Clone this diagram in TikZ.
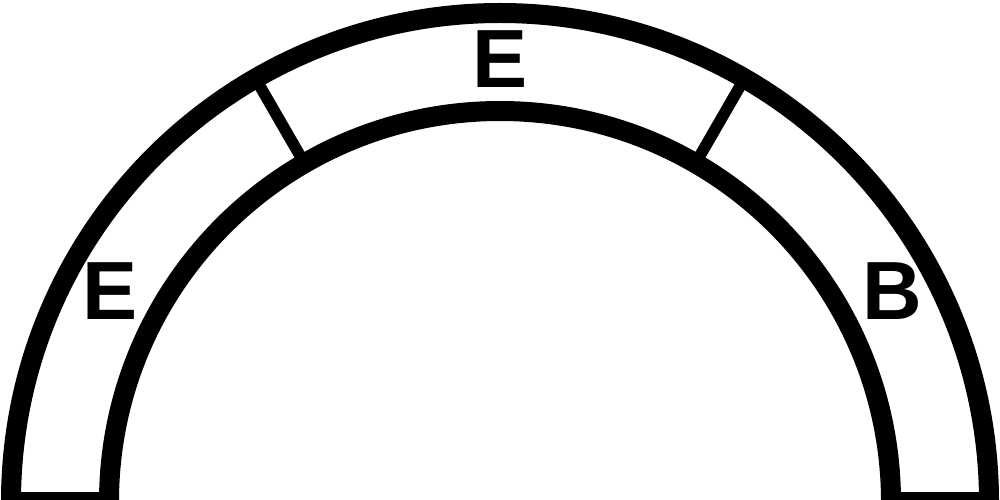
\documentclass[tikz,border=0pt]{standalone}
\usepackage{fontspec}
\setmainfont{Liberation Sans}
\begin{document}
\begin{tikzpicture}[
    band/.style={line width=0.2cm, line join=miter},
    divider/.style={line width=0.115cm},
    letter/.style={font=\fontsize{23.5}{28}\selectfont\bfseries, inner sep=0pt}
  ]
% Fix the frame of the picture
\useasboundingbox (-5,0.03) rectangle (5,5.02);

% Draw the arch as one closed band
\draw[band] (0:4.89) arc[start angle=0, end angle=180, radius=4.89]
  -- (180:3.91) arc[start angle=180, end angle=0, radius=3.91] -- cycle;

% Split the band into three parts
\draw[divider] (120:3.91) -- (120:4.89);
\draw[divider] (60:3.91) -- (60:4.89);

% Label the parts
\node[letter] (top) at (0,4.43) {E};
\node[letter] (left) at (-3.90,2.11) {E};
\node[letter] (right) at (3.92,2.11) {B};
\end{tikzpicture}
\end{document}
